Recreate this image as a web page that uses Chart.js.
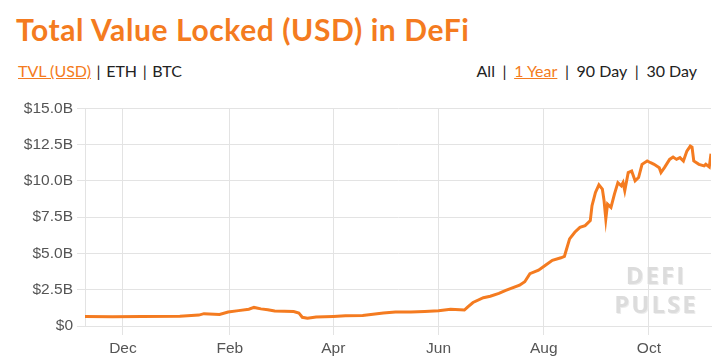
<!DOCTYPE html>
<html>
<head>
<meta charset="utf-8">
<script src="https://cdn.jsdelivr.net/npm/chart.js@4"></script>
<style>
  body { margin: 0; width: 722px; height: 364px; background: #fff; position: relative; overflow: hidden; font-family: Lato, "Open Sans", sans-serif; }
  .title { position: absolute; left: 16px; top: 14px; font-size: 30px; line-height: 1; font-weight: 700; letter-spacing: 0.6px; color: #f47b20; white-space: nowrap; }
  .nav { position: absolute; top: 63px; font-size: 16px; line-height: 1; color: #222; white-space: nowrap; }
  .nav.left { left: 18px; }
  .nav.left .sep { margin: 0 1.5px; }
  .nav.right { right: 25px; }
  .nav.right .sep { margin: 0 3.5px; }
  .nav .on { color: #f47b20; text-decoration: underline; }
  .wrap { position: absolute; left: 0; top: 95px; width: 722px; height: 269px; }
  .mark { position: absolute; left: 606px; top: 260px; width: 100px; text-align: center; font-family: "Open Sans", sans-serif; font-weight: 700; font-size: 24px; line-height: 29px; letter-spacing: 2px; color: #dcdcdc; text-shadow: 1px 1px 0 #ececec; }
</style>
</head>
<body>
<div class="title">Total Value Locked (USD) in DeFi</div>
<div class="nav left"><span class="on">TVL (USD)</span><span class="sep"> | </span>ETH<span class="sep"> | </span>BTC</div>
<div class="nav right">All<span class="sep"> | </span><span class="on">1 Year</span><span class="sep"> | </span>90 Day<span class="sep"> | </span>30 Day</div>
<div class="wrap"><canvas id="chart" width="722" height="269"></canvas></div>
<div class="mark">DEFI<br>PULSE</div>
<script>
// TVL in billions USD
const dates = [
  "2019-11-09", "2019-11-25", "2019-12-12", "2020-01-03", "2020-01-14", "2020-01-17", "2020-01-26", "2020-01-31",
  "2020-02-06", "2020-02-12", "2020-02-15", "2020-02-19", "2020-02-23", "2020-02-27", "2020-03-09", "2020-03-12",
  "2020-03-14", "2020-03-17", "2020-03-22", "2020-04-01", "2020-04-08", "2020-04-18", "2020-04-30", "2020-05-07",
  "2020-05-16", "2020-05-24", "2020-06-01", "2020-06-08", "2020-06-16", "2020-06-18", "2020-06-21", "2020-06-27",
  "2020-07-01", "2020-07-06", "2020-07-10", "2020-07-18", "2020-07-21", "2020-07-24", "2020-07-29", "2020-08-02",
  "2020-08-06", "2020-08-11", "2020-08-13", "2020-08-14", "2020-08-16", "2020-08-19", "2020-08-22", "2020-08-25",
  "2020-08-28", "2020-08-29", "2020-08-31", "2020-09-02", "2020-09-04", "2020-09-05", "2020-09-06",
  "2020-09-07", "2020-09-09", "2020-09-11", "2020-09-13", "2020-09-15", "2020-09-16", "2020-09-17", "2020-09-19",
  "2020-09-21", "2020-09-23", "2020-09-25", "2020-09-27", "2020-09-30", "2020-10-02", "2020-10-04", "2020-10-07",
  "2020-10-08", "2020-10-10", "2020-10-13", "2020-10-15", "2020-10-17", "2020-10-19", "2020-10-21", "2020-10-23",
  "2020-10-25", "2020-10-26", "2020-10-27", "2020-10-30", "2020-11-02", "2020-11-03", "2020-11-05", "2020-11-06",
];
const tvl = [
  0.66, 0.64, 0.66, 0.68, 0.75, 0.85, 0.80, 0.96,
  1.06, 1.16, 1.28, 1.18, 1.12, 1.03, 1.00, 0.90,
  0.60, 0.53, 0.62, 0.66, 0.70, 0.73, 0.90, 0.96,
  0.96, 1.00, 1.05, 1.16, 1.10, 1.32, 1.62, 1.95,
  2.05, 2.25, 2.45, 2.81, 3.05, 3.61, 3.84, 4.18,
  4.52, 4.70, 4.79, 5.20, 6.00, 6.46, 6.80, 6.92,
  7.26, 8.29, 9.20, 9.73, 9.43, 8.63, 7.38,
  8.40, 8.17, 9.09, 9.88, 9.66, 9.88, 9.32, 10.57,
  10.68, 10.00, 10.23, 11.14, 11.37, 11.25, 11.14, 10.91,
  10.57, 10.91, 11.48, 11.64, 11.48, 11.60, 11.37, 12.05,
  12.40, 12.33, 11.37, 11.14, 11.03, 11.14, 10.96, 11.87,
];
const monthTicks = ["2019-12-01", "2020-02-01", "2020-04-01", "2020-06-01", "2020-08-01", "2020-10-01"];
const yTicks = [0, 2.5, 5, 7.5, 10, 12.5, 15];

const ORANGE = "#f47b20";
const GRID = "#e3e3e3";
const toMs = (d) => Date.parse(d + "T00:00:00Z");
const tickFont = { family: "'Liberation Sans', Arial, sans-serif", size: 15.5 };

new Chart(document.getElementById("chart"), {
  type: "line",
  data: {
    datasets: [
      {
        data: dates.map((d, i) => ({ x: toMs(d), y: tvl[i] })),
        borderColor: ORANGE,
        borderWidth: 3,
        pointRadius: 0,
        tension: 0,
      },
    ],
  },
  options: {
    animation: false,
    responsive: false,
    events: [],
    layout: { padding: { top: 12, right: 11, left: 0, bottom: 0 } },
    plugins: { legend: { display: false }, tooltip: { enabled: false } },
    scales: {
      x: {
        type: "linear",
        min: toMs(dates[0]),
        max: toMs(dates[dates.length - 1]),
        afterBuildTicks: (s) => { s.ticks = monthTicks.map((d) => ({ value: toMs(d) })); },
        afterFit: (s) => { s.height = 38; },
        grid: { color: GRID, tickLength: 9 },
        border: { color: GRID },
        ticks: {
          color: "#555",
          font: tickFont,
          padding: 4,
          maxRotation: 0,
          callback: (v) => new Date(v).toLocaleString("en-US", { month: "short", timeZone: "UTC" }),
        },
      },
      y: {
        min: 0,
        max: 15,
        afterBuildTicks: (s) => { s.ticks = yTicks.map((v) => ({ value: v })); },
        afterFit: (s) => { s.width = 85; },
        grid: { color: GRID, tickLength: 8 },
        border: { color: GRID },
        ticks: {
          color: "#555",
          font: tickFont,
          padding: 4,
          callback: (v) => (v === 0 ? "$0" : `$${v.toFixed(1)}B`),
        },
      },
    },
  },
});
</script>
</body>
</html>
